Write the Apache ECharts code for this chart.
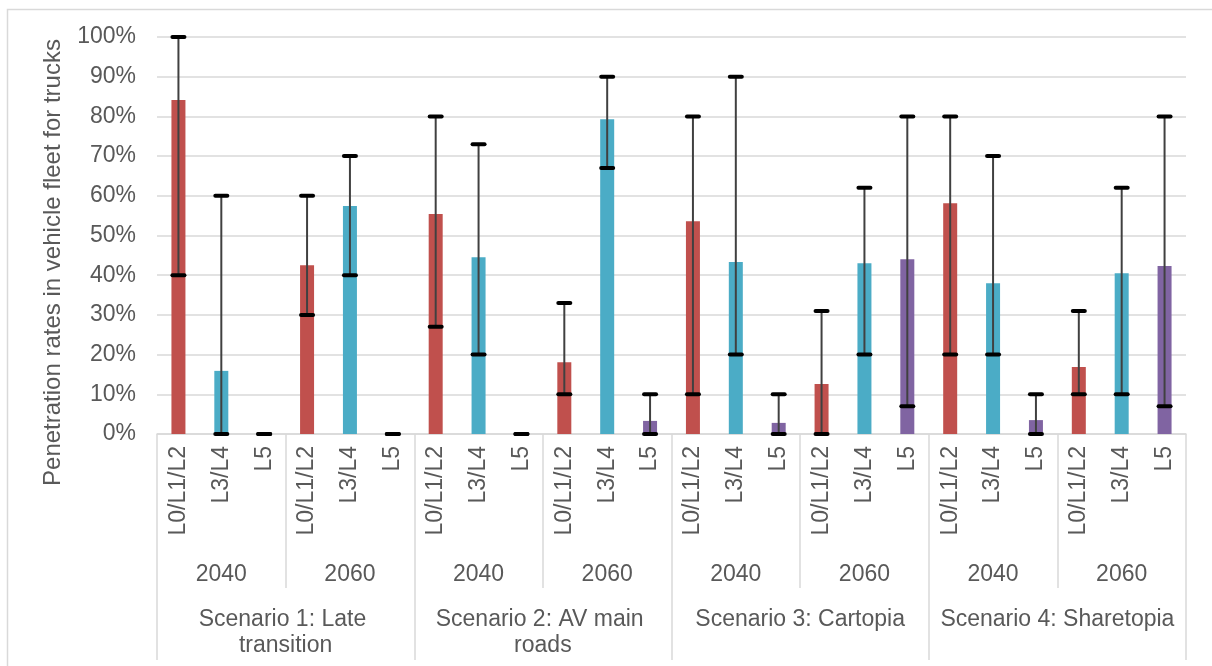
<!DOCTYPE html>
<html>
<head>
<meta charset="utf-8">
<script src="https://cdn.jsdelivr.net/npm/echarts@6/dist/echarts.min.js"></script>
<style>
html,body{margin:0;padding:0;background:#fff;}
#chart{width:1212px;height:666px;}
</style>
</head>
<body>
<div id="chart"></div>
<script>
// ---- data ----
const levels = ['L0/L1/L2', 'L3/L4', 'L5'];
const years = ['2040', '2060'];
const scenarios = ['Scenario 1: Late transition', 'Scenario 2: AV main roads', 'Scenario 3: Cartopia', 'Scenario 4: Sharetopia'];
const yTicks = [0, 10, 20, 30, 40, 50, 60, 70, 80, 90, 100];

// penetration (%) per scenario -> year -> level
const values = [
  84.1, 15.9, 0,    42.5, 57.4, 0,
  55.4, 44.5, 0,    18.1, 79.3, 3.3,
  53.6, 43.3, 2.8,  12.6, 43.0, 44.0,
  58.1, 38.0, 3.5,  16.9, 40.5, 42.3
];
const lows = [
  40, 0, 0,   30, 40, 0,
  27, 20, 0,  10, 67, 0,
  10, 20, 0,  0, 20, 7,
  20, 20, 0,  10, 10, 7
];
const highs = [
  100, 60, 0,  60, 70, 0,
  80, 73, 0,   33, 90, 10,
  80, 90, 10,  31, 62, 80,
  80, 70, 10,  31, 62, 80
];
const levelColors = ['#C0504D', '#4BACC6', '#8064A2'];

// ---- derived categories ----
const levelCats = [];
const yearCats = [];
scenarios.forEach(() => years.forEach(y => { yearCats.push(y); levels.forEach(l => levelCats.push(l)); }));

const barData = values.map((v, i) => ({ value: v, itemStyle: { color: levelColors[i % levels.length] } }));
const errData = values.map((v, i) => [i, lows[i], highs[i]]);

const txt = '#595959';
const gridLine = '#D9D9D9';
const font = 'Liberation Sans, Arial, sans-serif';
const fs = 23;

const chart = echarts.init(document.getElementById('chart'), null, { renderer: 'canvas' });
chart.setOption({
  animation: false,
  backgroundColor: '#fff',
  textStyle: { fontFamily: font },
  graphic: [{
    type: 'rect', left: 5, top: 7, silent: true,
    shape: { width: 1240, height: 700 },
    style: { fill: 'none', stroke: gridLine, lineWidth: 1.5 }
  }],
  grid: { left: 157, right: 26, top: 37, bottom: 232, containLabel: false },
  xAxis: [
    {
      type: 'category', data: levelCats, position: 'bottom',
      axisLine: { show: true, lineStyle: { color: gridLine, width: 1.5 } },
      axisTick: { show: false },
      axisLabel: { interval: 0, rotate: 90, margin: 12, fontSize: fs, color: txt, fontFamily: font }
    },
    {
      type: 'category', data: yearCats, position: 'bottom', offset: 154,
      axisLine: { show: false },
      axisTick: { show: true, inside: true, length: 154, interval: 0, lineStyle: { color: gridLine, width: 1.5 } },
      axisLabel: { show: false }
    },
    {
      type: 'category', data: yearCats, position: 'bottom', offset: 122,
      axisLine: { show: false }, axisTick: { show: false },
      axisLabel: { interval: 0, margin: 7, fontSize: fs, color: txt, fontFamily: font }
    },
    {
      type: 'category', data: scenarios, position: 'bottom', offset: 226,
      axisLine: { show: false },
      axisTick: { show: true, inside: true, length: 226, interval: 0, lineStyle: { color: gridLine, width: 1.5 } },
      axisLabel: { show: false }
    },
    {
      type: 'category', data: scenarios, position: 'bottom', offset: 166,
      axisLine: { show: false }, axisTick: { show: false },
      axisLabel: { interval: 0, margin: 7, fontSize: fs, lineHeight: 26, color: txt, fontFamily: font,
                   width: 250, overflow: 'break', align: 'center' }
    }
  ],
  yAxis: {
    type: 'value', min: yTicks[0], max: yTicks[yTicks.length - 1], interval: yTicks[1] - yTicks[0],
    name: 'Penetration rates in vehicle fleet for trucks',
    nameLocation: 'middle', nameGap: 92,
    nameTextStyle: { fontSize: 24, color: txt, fontFamily: font, padding: [0, 54, 0, 0] },
    axisLine: { show: false }, axisTick: { show: false },
    axisLabel: { formatter: v => v + '%', fontSize: fs, color: txt, margin: 21, fontFamily: font },
    splitLine: { show: true, lineStyle: { color: gridLine, width: 1.5 } }
  },
  series: [
    {
      type: 'bar', xAxisIndex: 0, barWidth: 14, data: barData, z: 2
    },
    {
      type: 'custom', xAxisIndex: 0, data: errData, z: 5,
      renderItem: function (params, api) {
        const idx = api.value(0);
        const lo = api.coord([idx, api.value(1)]);
        const hi = api.coord([idx, api.value(2)]);
        const half = 6;
        return {
          type: 'group',
          children: [
            { type: 'line', shape: { x1: lo[0], y1: lo[1], x2: hi[0], y2: hi[1] },
              style: { stroke: '#404040', lineWidth: 2 } },
            { type: 'line', shape: { x1: hi[0] - half, y1: hi[1], x2: hi[0] + half, y2: hi[1] },
              style: { stroke: '#000', lineWidth: 4, lineCap: 'round' } },
            { type: 'line', shape: { x1: lo[0] - half, y1: lo[1], x2: lo[0] + half, y2: lo[1] },
              style: { stroke: '#000', lineWidth: 4, lineCap: 'round' } }
          ]
        };
      }
    }
  ]
});
</script>
</body>
</html>
